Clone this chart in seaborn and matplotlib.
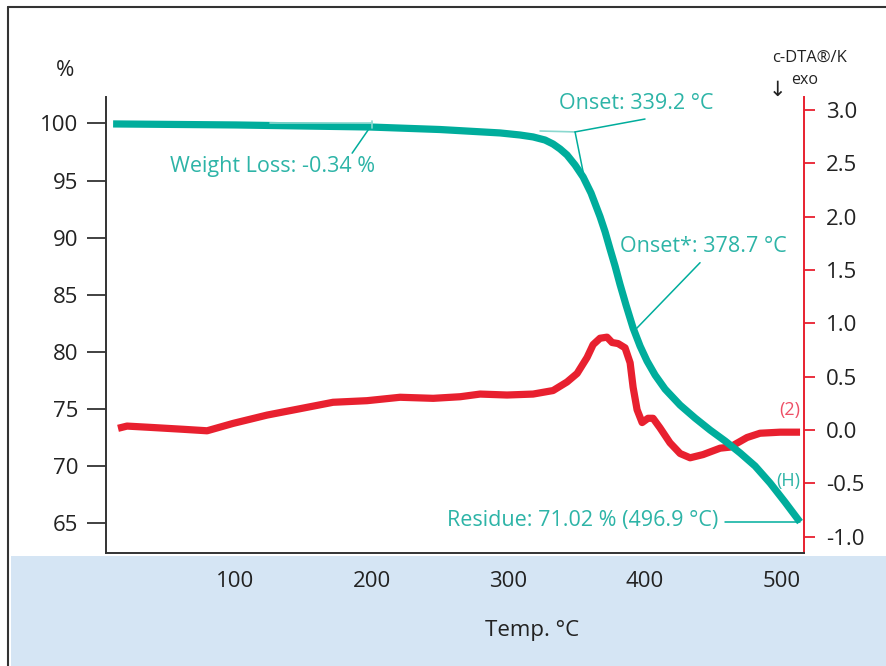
import matplotlib
matplotlib.use("Agg")
import matplotlib.pyplot as plt
import seaborn as sns
import pandas as pd
from matplotlib.lines import Line2D
from matplotlib.patches import Rectangle

# ---------------- data ----------------
temp_tg = [10.7, 100.7, 198.8, 250.1, 294.0, 308.6, 318.2, 326.9, 332.8, 337.9,
           343.0, 348.9, 354.8, 360.6, 367.2, 370.9, 374.5, 378.2, 381.8, 386.2,
           391.4, 396.5, 401.6, 407.5, 414.8, 425.8, 436.8, 447.8, 458.8, 469.8,
           480.7, 491.7, 502.6, 513.6]
mass_pct = [99.96, 99.87, 99.69, 99.47, 99.17, 98.99, 98.82, 98.55, 98.20, 97.77,
            97.24, 96.36, 95.31, 93.90, 91.83, 90.50, 89.00, 87.50, 85.90, 84.09,
            82.07, 80.49, 79.18, 77.95, 76.72, 75.32, 74.18, 73.13, 72.17, 71.12,
            69.98, 68.49, 66.82, 65.07]

temp_dta = [14.3, 20.9, 37.8, 61.9, 79.5, 98.5, 123.4, 147.6, 171.7, 196.6,
            220.8, 245.0, 264.8, 279.4, 299.1, 318.2, 332.8, 343.0, 350.4, 357.7,
            362.1, 367.2, 372.3, 376.0, 380.4, 385.5, 389.2, 391.4, 394.3, 398.0,
            402.3, 406.0, 411.1, 418.4, 425.8, 433.1, 442.6, 455.1, 462.4, 474.8,
            484.3, 499.0, 513.6]
dta_val = [0.016, 0.037, 0.025, 0.007, -0.007, 0.062, 0.14, 0.20, 0.26, 0.275,
           0.307, 0.297, 0.312, 0.337, 0.328, 0.337, 0.37, 0.45, 0.53, 0.68,
           0.80, 0.86, 0.87, 0.82, 0.81, 0.77, 0.63, 0.40, 0.19, 0.07,
           0.11, 0.11, 0.02, -0.12, -0.22, -0.26, -0.23, -0.17, -0.16, -0.07,
           -0.03, -0.02, -0.02]

x_ticks = [100, 200, 300, 400, 500]
left_ticks = [65, 70, 75, 80, 85, 90, 95, 100]
right_ticks = [-1.0, -0.5, 0.0, 0.5, 1.0, 1.5, 2.0, 2.5, 3.0]
right_tick_labels = ["-1.0", "-0.5", "0.0", "0.5", "1.0", "1.5", "2.0", "2.5", "3.0"]

onset_label = "Onset: 339.2 °C"
onset2_label = "Onset*: 378.7 °C"
wl_label = "Weight Loss: -0.34 %"
residue_label = "Residue: 71.02 % (496.9 °C)"

# ---------------- style ----------------
TEAL = "#00ad9c"
TEAL_TXT = "#2db4a7"
TEAL_LIGHT = "#8ad8cf"
RED = "#e8202f"
RED_TXT = "#ee5067"
DARK = "#333333"
LBL = "#222222"

sns.set_style("white")
plt.rcParams["font.family"] = ["Open Sans", "DejaVu Sans"]
plt.rcParams["axes.unicode_minus"] = False

W, H = 886, 666
fig = plt.figure(figsize=(W / 100, H / 100), dpi=100)
fig.patch.set_facecolor("white")

# blue band and frame
fig.add_artist(Rectangle((11 / W, 0), 1, (H - 556) / H, transform=fig.transFigure,
                         facecolor="#d5e5f4", edgecolor="none", zorder=-5))
fig.add_artist(Line2D([8 / W, 8 / W], [0, 1 - 7 / H], transform=fig.transFigure,
                      color=DARK, lw=1.5, zorder=-4))
fig.add_artist(Line2D([8 / W, 1], [1 - 7 / H, 1 - 7 / H], transform=fig.transFigure,
                      color=DARK, lw=1.5, zorder=-4))

ax = fig.add_axes([106 / W, (H - 553) / H, (804 - 106) / W, (553 - 97) / H])
ax2 = ax.twinx()

df_tg = pd.DataFrame({"T": temp_tg, "m": mass_pct})
df_dta = pd.DataFrame({"T": temp_dta, "v": dta_val})

sns.lineplot(data=df_dta, x="T", y="v", ax=ax2, color=RED, lw=5.2,
             sort=False, estimator=None, solid_capstyle="butt", solid_joinstyle="round")
sns.lineplot(data=df_tg, x="T", y="m", ax=ax, color=TEAL, lw=5.2,
             sort=False, estimator=None, solid_capstyle="butt", solid_joinstyle="round")

ax.set_zorder(ax2.get_zorder() + 1)
ax.patch.set_visible(False)

ax.set_xlim(5.5, 516.5)
ax.set_ylim(62.36, 102.32)
ax2.set_ylim(-1.152, 3.12)

ax.set_xticks(x_ticks)
ax.set_yticks(left_ticks)
ax2.set_yticks(right_ticks)
ax2.set_yticklabels(right_tick_labels)
ax.set_ylabel("")
ax2.set_ylabel("")

for s in ["top", "right"]:
    ax.spines[s].set_visible(False)
for s in ["left", "bottom"]:
    ax.spines[s].set_color(DARK)
    ax.spines[s].set_linewidth(1.4)
for s in ["left", "top", "bottom"]:
    ax2.spines[s].set_visible(False)
ax2.spines["right"].set_color(RED)
ax2.spines["right"].set_linewidth(1.4)

ax.tick_params(axis="y", direction="out", length=14, width=1.3, color=DARK,
               pad=6, labelsize=16, labelcolor=LBL, left=True)
ax.tick_params(axis="x", length=0, pad=13, labelsize=16, labelcolor=LBL)
ax2.tick_params(axis="y", direction="out", length=8, width=1.3, color=RED,
                pad=8, labelsize=16, labelcolor=LBL, right=True)

# axis titles
ax.set_xlabel("Temp. °C", fontsize=16, color=LBL)
ax.xaxis.set_label_coords((532 - 106) / 698, -(620 - 553) / 456)
fig.text(65 / W, 1 - 70 / H, "%", fontsize=16, color=LBL, ha="center", va="center")
fig.text(810 / W, 1 - 58 / H, "c-DTA®/K", fontsize=12, color=LBL,
         ha="center", va="center")
fig.text(777 / W, 1 - 90 / H, "↓", fontsize=15, color=LBL, ha="center", va="center")
fig.text(805 / W, 1 - 80 / H, "exo", fontsize=11.5, color=LBL, ha="center", va="center")

# annotations (left axis data coordinates)
akw = dict(color=TEAL_TXT, fontsize=15.5, va="center")
# onset construction
ax.plot([323.3, 348.9], [99.34, 99.26], color=TEAL_LIGHT, lw=1.2, zorder=5)
ax.plot([348.9, 354.8], [99.26, 95.75], color=TEAL, lw=1.1, zorder=5)
ax.plot([348.9, 400.1], [99.26, 100.39], color=TEAL, lw=1.1, zorder=5)
ax.text(337.5, 101.75, onset_label, ha="left", **akw)
# onset*
ax.plot([392.8, 440.4], [81.9, 87.8], color=TEAL, lw=1.1, zorder=5)
ax.text(381.5, 89.25, onset2_label, ha="left", **akw)
# weight loss
ax.plot([125.6, 200.3], [100.05, 100.05], color=TEAL_LIGHT, lw=1.2, zorder=5)
ax.plot([200.3, 200.3], [100.2, 99.6], color=TEAL_LIGHT, lw=1.2, zorder=5)
ax.plot([197.4, 185.7], [99.43, 97.4], color=TEAL, lw=1.1, zorder=5)
ax.text(52.0, 96.2, wl_label, ha="left", **akw)
# residue
ax.plot([458.7, 513.6], [65.07, 65.07], color=TEAL, lw=1.1, zorder=5)
ax.text(453.6, 65.2, residue_label, ha="right", **akw)
# curve tags
ax.text(513.5, 74.9, "(2)", ha="right", color=RED_TXT, fontsize=13, va="center")
ax.text(513.5, 68.67, "(H)", ha="right", color=TEAL_TXT, fontsize=13, va="center")

fig.savefig("out.png", dpi=100, facecolor=fig.get_facecolor())
